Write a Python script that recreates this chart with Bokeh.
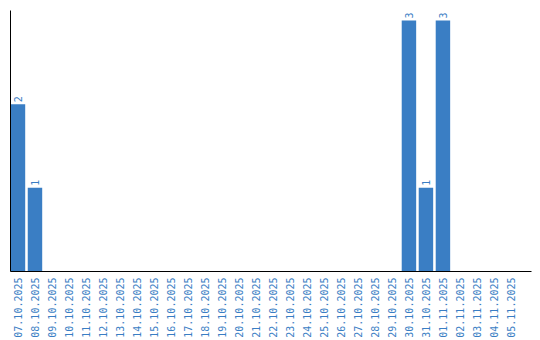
import math
from bokeh.plotting import figure
from bokeh.models import ColumnDataSource, Range1d, FixedTicker
from bokeh.core.properties import value
from bokeh.embed import file_html
from bokeh.resources import INLINE

dates = ["07.10.2025", "08.10.2025", "09.10.2025", "10.10.2025", "11.10.2025",
         "12.10.2025", "13.10.2025", "14.10.2025", "15.10.2025", "16.10.2025",
         "17.10.2025", "18.10.2025", "19.10.2025", "20.10.2025", "21.10.2025",
         "22.10.2025", "23.10.2025", "24.10.2025", "25.10.2025", "26.10.2025",
         "27.10.2025", "28.10.2025", "29.10.2025", "30.10.2025", "31.10.2025",
         "01.11.2025", "02.11.2025", "03.11.2025", "04.11.2025", "05.11.2025"]
counts = [2, 1, 0, 0, 0, 0, 0, 0, 0, 0, 0, 0, 0, 0, 0,
          0, 0, 0, 0, 0, 0, 0, 0, 3, 1, 3, 0, 0, 0, 0]

blue = "#3a7ec4"

xs = [i + 0.5 for i in range(len(dates))]
src = ColumnDataSource(dict(x=xs, top=counts))
lab_x = [x for x, c in zip(xs, counts) if c > 0]
lab_vals = [c for c in counts if c > 0]
lab_src = ColumnDataSource(dict(x=lab_x, y=lab_vals, t=[str(v) for v in lab_vals]))

p = figure(width=540, height=340, x_range=Range1d(0.06, 30.71),
           y_range=Range1d(0, 3.12), output_backend="svg", toolbar_location=None,
           min_border_left=10, min_border_right=9, min_border_top=10, min_border_bottom=0)
p.outline_line_color = None
p.xgrid.grid_line_color = None
p.ygrid.grid_line_color = None

p.vbar(x="x", top="top", width=0.85, source=src, fill_color=blue, line_color=None)
p.text(x="x", y="y", text="t", source=lab_src, angle=math.pi / 2, y_offset=-2,
       text_align="left", text_baseline="middle", text_color=blue,
       text_font=value("DejaVu Sans Mono"), text_font_size="10px")

p.yaxis.ticker = FixedTicker(ticks=[])
p.yaxis.major_tick_line_color = None
p.yaxis.minor_tick_line_color = None
p.yaxis.axis_line_color = "black"

p.xaxis.ticker = FixedTicker(ticks=xs)
p.xaxis.major_label_overrides = {x: d for x, d in zip(xs, dates)}
p.xaxis.major_label_orientation = math.pi / 2
p.xaxis.major_tick_line_color = None
p.xaxis.minor_tick_line_color = None
p.xaxis.major_tick_out = 0
p.xaxis.major_label_standoff = 6
p.xaxis.major_label_text_color = blue
p.xaxis.major_label_text_font = "DejaVu Sans Mono"
p.xaxis.major_label_text_font_size = "10px"
p.xaxis.axis_line_color = "black"

open("out.html", "w").write(file_html(p, INLINE))
